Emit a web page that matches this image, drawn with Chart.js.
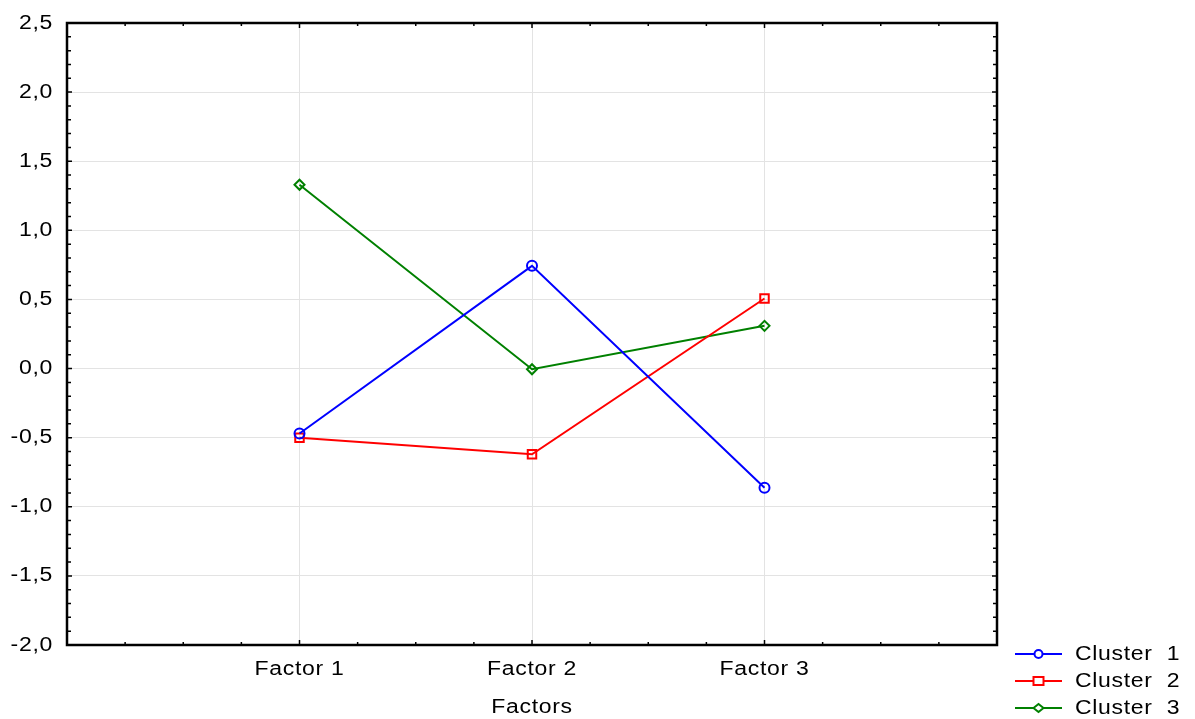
<!DOCTYPE html>
<html>
<head>
<meta charset="utf-8">
<script src="https://cdn.jsdelivr.net/npm/chart.js@4/dist/chart.umd.min.js"></script>
<style>
html,body{margin:0;padding:0;background:#fff;}
#wrap{width:1195px;height:719px;position:relative;}
</style>
</head>
<body>
<div id="wrap"><canvas id="c" width="1195" height="719"></canvas></div>
<script>
const categories = ["Factor 1", "Factor 2", "Factor 3"];
const cluster1 = [-0.47, 0.743, -0.862];
const cluster2 = [-0.50, -0.62, 0.507];
const cluster3 = [1.33, -0.005, 0.309];
const seriesNames = ["Cluster  1", "Cluster  2", "Cluster  3"];
const yTicks = [-2.0, -1.5, -1.0, -0.5, 0.0, 0.5, 1.0, 1.5, 2.0, 2.5];
const axisTitle = "Factors";

const FONT = "'Liberation Sans', Arial, sans-serif";
const FSIZE = 20;
const LSP = '0.6px';
const STRETCH = 1.15;

function toPoints(arr){ return arr.map((v,i)=>({x:i+1,y:v})); }

const styles = [
  {color:'#0000ff', point:'circle', r:5},
  {color:'#ff0000', point:'rect', r:6},
  {color:'#008000', point:'rectRot', r:5}
];
const seriesData = [cluster1, cluster2, cluster3];

const datasets = seriesData.map((d,i)=>({
  label: seriesNames[i],
  data: toPoints(d),
  borderColor: styles[i].color,
  backgroundColor: 'rgba(0,0,0,0)',
  pointBackgroundColor: 'rgba(0,0,0,0)',
  pointBorderColor: styles[i].color,
  pointStyle: styles[i].point,
  pointRadius: styles[i].r,
  pointBorderWidth: 2,
  borderWidth: 2,
  tension: 0,
  clip: false
}));

// Stretch text horizontally around its anchor (the reference uses wide lettering)
const textPlugin = {
  id: 'widetext',
  beforeDraw(chart){
    const ctx = chart.ctx;
    try { ctx.letterSpacing = LSP; } catch(e){}
    if (!ctx.__wide){
      const orig = ctx.fillText.bind(ctx);
      ctx.fillText = function(t, x, y, mw){
        ctx.save();
        ctx.translate(x, y);
        ctx.scale(STRETCH, 1);
        if (mw !== undefined) orig(t, 0, 0, mw); else orig(t, 0, 0);
        ctx.restore();
      };
      ctx.__wide = true;
    }
  }
};

const framePlugin = {
  id: 'frame',
  afterDraw(chart){
    const ctx = chart.ctx;
    const a = chart.chartArea;
    const xs = chart.scales.x, ys = chart.scales.y;
    ctx.save();
    ctx.strokeStyle = '#000';
    ctx.lineWidth = 1.5;
    for (let k = -20; k <= 25; k++){
      const v = k/10;
      const p = ys.getPixelForValue(v);
      const len = (k % 5 === 0) ? 5 : 4;
      ctx.beginPath();
      ctx.moveTo(a.left, p); ctx.lineTo(a.left+len, p);
      ctx.moveTo(a.right, p); ctx.lineTo(a.right-len, p);
      ctx.stroke();
    }
    for (let k = 0; k <= 16; k++){
      const v = k/4;
      const p = xs.getPixelForValue(v);
      const len = (k % 4 === 0) ? 5 : 3;
      ctx.beginPath();
      ctx.moveTo(p, a.bottom); ctx.lineTo(p, a.bottom-len);
      ctx.moveTo(p, a.top); ctx.lineTo(p, a.top+len);
      ctx.stroke();
    }
    ctx.lineWidth = 2.5;
    ctx.strokeRect(a.left, a.top, a.right-a.left, a.bottom-a.top);
    // legend
    const lx0 = 1015, lx1 = 1062, tx = 1075;
    const rows = [654, 681, 708];
    ctx.font = FSIZE + "px " + FONT;
    try { ctx.letterSpacing = LSP; } catch(e){}
    ctx.textBaseline = 'middle';
    ctx.textAlign = 'left';
    chart.data.datasets.forEach((ds,i)=>{
      const y = rows[i];
      ctx.strokeStyle = ds.borderColor;
      ctx.lineWidth = 2;
      ctx.beginPath(); ctx.moveTo(lx0,y); ctx.lineTo(lx1,y); ctx.stroke();
      const cx = (lx0+lx1)/2;
      ctx.fillStyle = '#fff';
      if (ds.pointStyle === 'circle'){
        ctx.beginPath(); ctx.arc(cx,y,4,0,Math.PI*2); ctx.fill(); ctx.stroke();
      } else if (ds.pointStyle === 'rect'){
        ctx.fillRect(cx-5,y-4,10,8); ctx.strokeRect(cx-5,y-4,10,8);
      } else {
        ctx.beginPath(); ctx.moveTo(cx-5,y); ctx.lineTo(cx,y-4); ctx.lineTo(cx+5,y); ctx.lineTo(cx,y+4); ctx.closePath(); ctx.fill(); ctx.stroke();
      }
      ctx.fillStyle = '#000';
      ctx.fillText(ds.label, tx, y);
    });
    ctx.restore();
  }
};

new Chart(document.getElementById('c'), {
  type: 'line',
  data: { datasets },
  plugins: [textPlugin, framePlugin],
  options: {
    responsive: false,
    animation: false,
    layout: { padding: { left: 0, right: 198, top: 23, bottom: 0 } },
    plugins: { legend: { display: false }, tooltip: { enabled: false } },
    scales: {
      x: {
        type: 'linear', min: 0, max: 4,
        afterBuildTicks(scale){ scale.ticks = [0,1,2,3,4].map(v=>({value:v})); },
        afterFit(scale){ scale.height = 74; scale.paddingLeft = 0; scale.paddingRight = 0; },
        ticks: {
          padding: 12, color: '#000', maxRotation: 0, autoSkip: false,
          font: { family: FONT, size: FSIZE },
          callback(v){ return (v>=1 && v<=3) ? categories[v-1] : ''; }
        },
        grid: {
          drawTicks: false,
          color(ctx){ const v = ctx.tick && ctx.tick.value; return (v>=1 && v<=3) ? '#e3e3e3' : 'rgba(0,0,0,0)'; },
          lineWidth: 1
        },
        border: { display: false },
        title: { display: true, text: axisTitle, color: '#000', font: { family: FONT, size: FSIZE }, padding: { top: 10, bottom: 0 } }
      },
      y: {
        type: 'linear', min: -2, max: 2.5,
        afterBuildTicks(scale){ scale.ticks = yTicks.map(v=>({value:v})); },
        afterFit(scale){ scale.width = 67; scale.paddingTop = 0; scale.paddingBottom = 0; },
        ticks: {
          padding: 14, color: '#000',
          font: { family: FONT, size: FSIZE },
          callback(v){ return Number(v).toFixed(1).replace('.', ','); }
        },
        grid: {
          drawTicks: false,
          color(ctx){ const v = ctx.tick && ctx.tick.value; return (v>-2 && v<2.5) ? '#e3e3e3' : 'rgba(0,0,0,0)'; },
          lineWidth: 1
        },
        border: { display: false }
      }
    }
  }
});
</script>
</body>
</html>
